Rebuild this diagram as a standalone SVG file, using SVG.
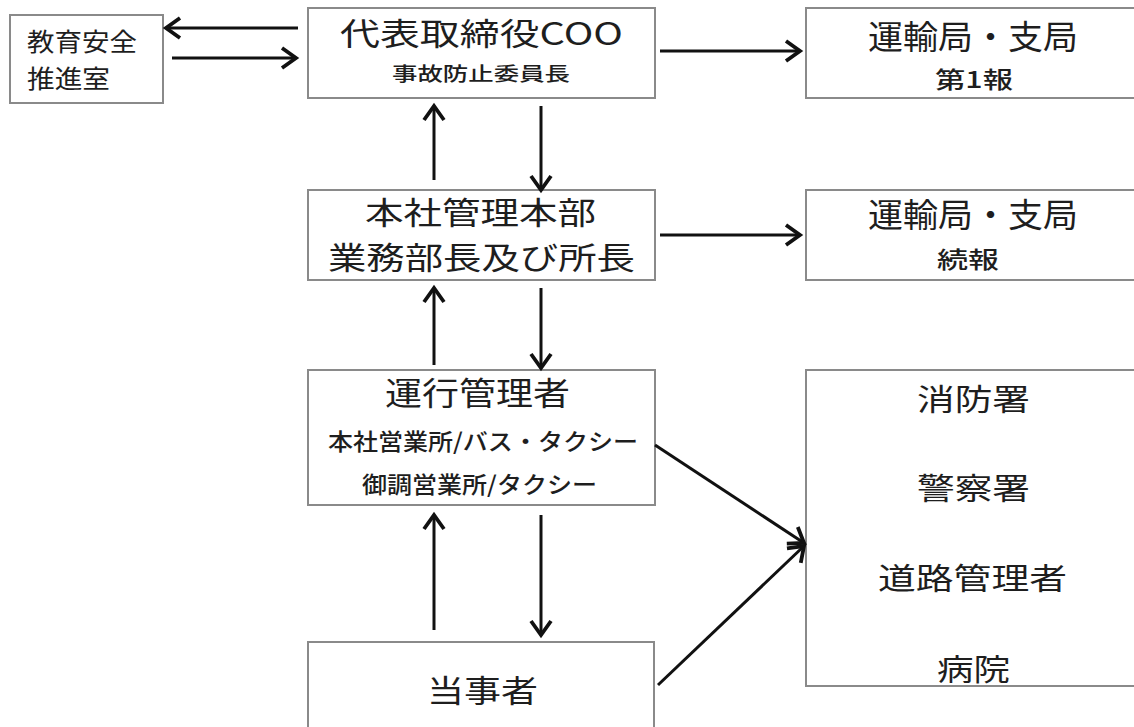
<svg xmlns="http://www.w3.org/2000/svg" width="1134" height="727" viewBox="0 0 1134 727">
<style>
.box{fill:#fff;stroke:#8a8a8a;stroke-width:2}
text{font-family:"Noto Sans CJK JP","Liberation Sans",sans-serif;fill:#1e1e1e;font-weight:400}
.s{font-weight:500}
.l{stroke:#111;stroke-width:3;fill:none}
</style>
<defs>
<marker id="ah" viewBox="-20 -14 24 28" refX="0" refY="0" markerWidth="24" markerHeight="28" markerUnits="userSpaceOnUse" orient="auto">
<path d="M-14,-10 L0,0 L-14,10" fill="none" stroke="#111" stroke-width="3.8"/>
</marker>
</defs>
<rect width="1134" height="727" fill="#fff"/>
<g id="kyoiku"><rect class="box" x="10" y="15" width="153" height="88"/>
<text x="27" y="51" font-size="25" textLength="110" lengthAdjust="spacingAndGlyphs">教育安全</text>
<text x="27" y="88" font-size="25" textLength="83" lengthAdjust="spacingAndGlyphs">推進室</text></g>
<g id="coo"><rect class="box" x="308" y="8" width="347" height="90"/>
<text x="340" y="45" font-size="31" textLength="283" lengthAdjust="spacingAndGlyphs">代表取締役COO</text>
<text class="s" x="392" y="81" font-size="19" textLength="178" lengthAdjust="spacingAndGlyphs">事故防止委員長</text></g>
<g id="unyu1"><rect class="box" x="806" y="8" width="340" height="90"/>
<text x="868" y="49" font-size="33" textLength="210" lengthAdjust="spacingAndGlyphs">運輸局・支局</text>
<text class="s" x="935" y="88" font-size="23" textLength="78" lengthAdjust="spacingAndGlyphs">第1報</text></g>
<g id="honsha"><rect class="box" x="308" y="190" width="347" height="90"/>
<text x="365" y="224" font-size="31" textLength="231" lengthAdjust="spacingAndGlyphs">本社管理本部</text>
<text x="328" y="269" font-size="31" textLength="307" lengthAdjust="spacingAndGlyphs">業務部長及び所長</text></g>
<g id="unyu2"><rect class="box" x="806" y="190" width="340" height="90"/>
<text x="868" y="227" font-size="33" textLength="210" lengthAdjust="spacingAndGlyphs">運輸局・支局</text>
<text class="s" x="937" y="268" font-size="23" textLength="62" lengthAdjust="spacingAndGlyphs">続報</text></g>
<g id="unko"><rect class="box" x="308" y="370" width="347" height="135"/>
<text x="385" y="405" font-size="32" textLength="185" lengthAdjust="spacingAndGlyphs">運行管理者</text>
<text class="s" x="328" y="450" font-size="23" textLength="310" lengthAdjust="spacingAndGlyphs">本社営業所/バス・タクシー</text>
<text class="s" x="362" y="493" font-size="23" textLength="235" lengthAdjust="spacingAndGlyphs">御調営業所/タクシー</text></g>
<g id="kankei"><rect class="box" x="806" y="370" width="340" height="316"/>
<text x="917" y="410" font-size="30" textLength="113" lengthAdjust="spacingAndGlyphs">消防署</text>
<text x="917" y="499" font-size="30" textLength="113" lengthAdjust="spacingAndGlyphs">警察署</text>
<text x="878" y="589" font-size="30" textLength="189" lengthAdjust="spacingAndGlyphs">道路管理者</text>
<text x="937" y="680" font-size="30" textLength="73" lengthAdjust="spacingAndGlyphs">病院</text></g>
<g id="tojisha"><rect class="box" x="308" y="642" width="346" height="100"/>
<text x="427" y="702" font-size="31" textLength="111" lengthAdjust="spacingAndGlyphs">当事者</text></g>
<g id="connectors">
<line class="l" x1="298" y1="28" x2="166" y2="28" marker-end="url(#ah)"/>
<line class="l" x1="172" y1="58" x2="296" y2="58" marker-end="url(#ah)"/>
<line class="l" x1="660" y1="51" x2="800" y2="51" marker-end="url(#ah)"/>
<line class="l" x1="660" y1="235" x2="800" y2="235" marker-end="url(#ah)"/>
<line class="l" x1="434" y1="180" x2="434" y2="106" marker-end="url(#ah)"/>
<line class="l" x1="541" y1="106" x2="541" y2="190" marker-end="url(#ah)"/>
<line class="l" x1="434" y1="365" x2="434" y2="288" marker-end="url(#ah)"/>
<line class="l" x1="541" y1="288" x2="541" y2="368" marker-end="url(#ah)"/>
<line class="l" x1="434" y1="630" x2="434" y2="515" marker-end="url(#ah)"/>
<line class="l" x1="541" y1="515" x2="541" y2="635" marker-end="url(#ah)"/>
<line class="l" x1="655" y1="445" x2="804" y2="543" marker-end="url(#ah)"/>
<line class="l" x1="658" y1="685" x2="804" y2="546" marker-end="url(#ah)"/>
</g>
</svg>
